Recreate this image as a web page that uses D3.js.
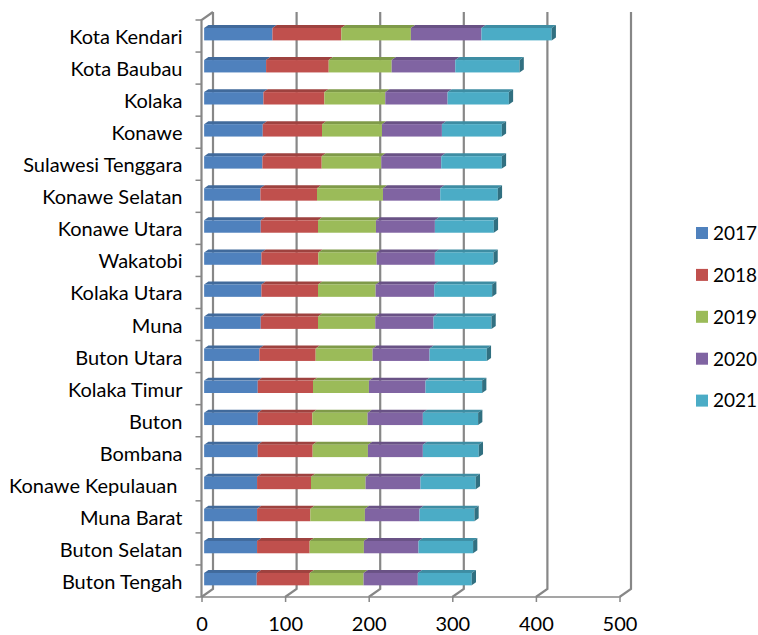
<!DOCTYPE html>
<html>
<head>
<meta charset="utf-8">
<script src="https://cdn.jsdelivr.net/npm/d3@7/dist/d3.min.js"></script>
<style>
  html, body { margin: 0; padding: 0; background: #ffffff; }
  svg { display: block; }
  text { font-family: Lato, "Open Sans", sans-serif; fill: #000; }
</style>
</head>
<body>
<script>
// Regions, top to bottom
const categories = [
  "Kota Kendari", "Kota Baubau", "Kolaka", "Konawe", "Sulawesi Tenggara",
  "Konawe Selatan", "Konawe Utara", "Wakatobi", "Kolaka Utara", "Muna",
  "Buton Utara", "Kolaka Timur", "Buton", "Bombana", "Konawe Kepulauan ",
  "Muna Barat", "Buton Selatan", "Buton Tengah"
];

// One array per year, same order as categories
const v2017 = [81.7, 74.1, 70.9, 70.1, 69.7, 67.3, 67.7, 68.5, 68.5, 67.7, 66.1, 64.1, 64.1, 64.1, 63.3, 63.3, 63.3, 62.9];
const v2018 = [82.4, 74.9, 72.9, 70.9, 70.9, 67.7, 68.5, 68.1, 67.7, 68.5, 67.3, 66.1, 65.3, 65.7, 64.5, 63.7, 62.9, 63.3];
const v2019 = [83.2, 75.3, 72.9, 71.7, 71.3, 78.9, 69.3, 69.7, 68.9, 68.5, 68.1, 66.9, 66.1, 66.1, 65.3, 65.3, 64.9, 64.5];
const v2020 = [84.4, 76.1, 74.5, 71.7, 71.7, 68.5, 70.5, 69.7, 70.1, 69.7, 68.1, 67.7, 66.1, 65.7, 65.7, 65.3, 65.3, 64.9];
const v2021 = [84.0, 76.9, 73.3, 71.7, 72.5, 68.9, 70.5, 70.1, 69.3, 69.3, 68.5, 67.7, 66.1, 66.9, 66.1, 65.7, 65.3, 64.5];

const years = ["2017", "2018", "2019", "2020", "2021"];
const colors = ["#4F81BD", "#C0504D", "#9BBB59", "#8064A2", "#4BACC6"];
const tickValues = [0, 100, 200, 300, 400, 500];

const seriesValues = [v2017, v2018, v2019, v2020, v2021];

const W = 758, H = 635;
const svg = d3.select("body").append("svg").attr("width", W).attr("height", H);

// Front-plane scales
const x = d3.scaleLinear().domain([0, 500]).range([201.5, 619.5]);
const y = d3.scaleBand().domain(categories).range([20, 597]);

// Oblique depth vector from the front plane to the back wall
const DX = 11.5, DY = -8;
const f0 = 0.23, f1 = 0.6;          // bar front / back depth fractions
const barH = 12.4;

const gridColor = "#878787";
const grid = svg.append("g").attr("fill", "none").attr("stroke", gridColor).attr("stroke-width", 2.2);

// Back-wall verticals and floor diagonals for each value tick
tickValues.forEach(v => {
  const xf = x(v), xb = x(v) + DX;
  grid.append("path")
    .attr("d", `M${xb},${y.range()[0] + DY}L${xb},${y.range()[1] + DY}L${xf},${y.range()[1]}`);
});

// Left wall edge and category axis line
grid.append("path")
  .attr("d", `M${x(0)},${y.range()[1]}L${x(0)},${y.range()[0]}L${x(0) + DX},${y.range()[0] + DY}`);

// Value axis line along the front edge of the floor
grid.append("line")
  .attr("x1", x(0)).attr("x2", x(500))
  .attr("y1", y.range()[1]).attr("y2", y.range()[1])
  .attr("stroke-width", 1.5);

// Category tick marks at band boundaries
const bounds = categories.map(c => y(c)).concat([y.range()[1]]);
svg.append("g").selectAll("line").data(bounds).join("line")
  .attr("x1", x(0) - 6).attr("x2", x(0))
  .attr("y1", d => d).attr("y2", d => d)
  .attr("stroke", gridColor).attr("stroke-width", 1.5);

// Value axis ticks and labels
const xAxis = d3.axisBottom(x).tickValues(tickValues).tickSize(5).tickPadding(15).tickFormat(d3.format("d"));
const gx = svg.append("g").attr("transform", `translate(0,${y.range()[1]})`).call(xAxis);
gx.select(".domain").remove();
gx.selectAll(".tick line").attr("stroke", gridColor).attr("stroke-width", 1.5);
gx.selectAll(".tick text").style("font-size", "20px").attr("fill", "#000");

// Category labels
const yAxis = d3.axisLeft(y).tickSize(0).tickPadding(19);
const gy = svg.append("g").attr("transform", `translate(${x(0)},0)`).call(yAxis);
gy.select(".domain").remove();
gy.selectAll(".tick text").style("font-size", "20px").style("white-space", "pre")
  .attr("fill", "#000").attr("dy", "0.4em");

// Stacked 3D bars
const stackData = categories.map((c, i) => {
  const row = { cat: c };
  years.forEach((yr, k) => row[yr] = seriesValues[k][i]);
  return row;
});
const stacked = d3.stack().keys(years)(stackData);

const bars = svg.append("g");
const ox0 = f0 * DX, oy0 = f0 * DY;
const ddx = (f1 - f0) * DX, ddy = (f1 - f0) * DY;

categories.forEach((c, i) => {
  const cy = y(c) + y.bandwidth() / 2 + oy0;
  const yTop = cy - barH / 2, yBot = cy + barH / 2;
  const g = bars.append("g");
  stacked.forEach((layer, k) => {
    const seg = layer[i];
    const xa = x(seg[0]) + ox0, xb = x(seg[1]) + ox0;
    const col = d3.color(colors[k]);
    // top face
    g.append("path")
      .attr("d", `M${xa},${yTop}L${xa + ddx},${yTop + ddy}L${xb + ddx},${yTop + ddy}L${xb},${yTop}Z`)
      .attr("fill", col.darker(0.55));
    // front face
    g.append("rect")
      .attr("x", xa).attr("y", yTop).attr("width", xb - xa).attr("height", barH)
      .attr("fill", colors[k]);
    // right side face on the last segment
    if (k === stacked.length - 1) {
      g.append("path")
        .attr("d", `M${xb},${yTop}L${xb + ddx},${yTop + ddy}L${xb + ddx},${yBot + ddy}L${xb},${yBot}Z`)
        .attr("fill", col.darker(1.2));
    }
  });
});

// Legend
const legend = svg.append("g");
years.forEach((yr, k) => {
  const cy = 233 + k * 41.9;
  legend.append("rect").attr("x", 696).attr("y", cy - 6).attr("width", 12).attr("height", 12).attr("fill", colors[k]);
  legend.append("text").attr("x", 713).attr("y", cy).attr("dy", "0.36em")
    .style("font-size", "19px").text(yr);
});
</script>
</body>
</html>
